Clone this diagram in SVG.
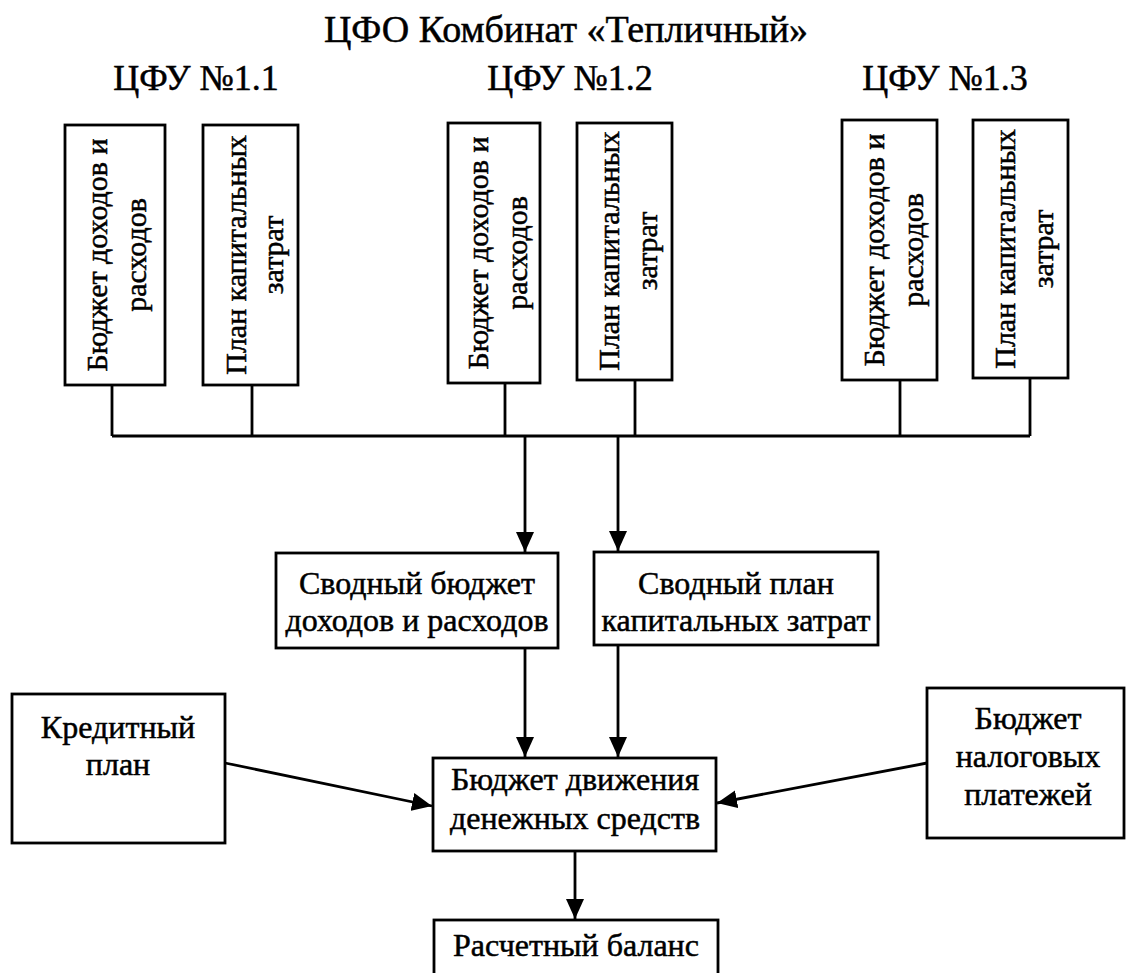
<svg xmlns="http://www.w3.org/2000/svg" width="1128" height="973" viewBox="0 0 1128 973">
  <style>
    .box { fill: #ffffff; stroke: #000000; stroke-width: 2.8; }
    .ln { fill: none; stroke: #000000; stroke-width: 2.8; }
    .arr { fill: none; stroke: #000000; stroke-width: 2.8; marker-end: url(#head); }
    .t { font-size: 32px; text-anchor: middle; fill: #000000; stroke: #000000; stroke-width: 0.5; }
    .v { font-size: 30px; }
    .h { font-size: 36px; text-anchor: middle; fill: #000000; stroke: #000000; stroke-width: 0.5; }
    .title { font-size: 38px; }
  </style>
  <defs>
    <marker id="head" markerUnits="userSpaceOnUse" markerWidth="20" markerHeight="18" viewBox="0 0 20 18" refX="20" refY="9" orient="auto">
      <path d="M0,0 L20,9 L0,18 Z" fill="#000000"/>
    </marker>
  </defs>

  <rect width="1128" height="973" fill="#ffffff"/>

  <g font-family="'Liberation Serif', 'DejaVu Serif', serif">
  <!-- headings -->
  <g id="headings">
    <text class="h title" x="566" y="42">ЦФО Комбинат «Тепличный»</text>
    <text class="h" x="196" y="90">ЦФУ №1.1</text>
    <text class="h" x="570" y="90">ЦФУ №1.2</text>
    <text class="h" x="945" y="90">ЦФУ №1.3</text>
  </g>

  <!-- connectors -->
  <g id="connectors">
    <path class="ln" d="M112,385 V436 M252,385 V436 M505,383 V436 M635,380 V436 M900,380 V436 M1030,378 V436 M112,436 H1030"/>
    <path class="arr" d="M525,436 V552"/>
    <path class="arr" d="M618,436 V551"/>
    <path class="arr" d="M525,648 V757"/>
    <path class="arr" d="M618,645 V757"/>
    <path class="arr" d="M225,763 L432,806"/>
    <path class="arr" d="M927,763 L717,803"/>
    <path class="arr" d="M575,851 V919"/>
  </g>

  <!-- ЦФУ 1.1 -->
  <g id="cfu11-budget">
    <rect class="box" x="65" y="125" width="100" height="260"/>
    <g transform="translate(65,255) rotate(-90)">
      <text class="t v" x="0" y="42">Бюджет доходов и</text>
      <text class="t v" x="0" y="81">расходов</text>
    </g>
  </g>
  <g id="cfu11-capex">
    <rect class="box" x="203" y="125" width="95" height="260"/>
    <g transform="translate(203,255) rotate(-90)">
      <text class="t v" x="0" y="43">План капитальных</text>
      <text class="t v" x="0" y="80">затрат</text>
    </g>
  </g>

  <!-- ЦФУ 1.2 -->
  <g id="cfu12-budget">
    <rect class="box" x="448" y="123" width="92" height="260"/>
    <g transform="translate(448,253) rotate(-90)">
      <text class="t v" x="0" y="40">Бюджет доходов и</text>
      <text class="t v" x="0" y="79">расходов</text>
    </g>
  </g>
  <g id="cfu12-capex">
    <rect class="box" x="577" y="123" width="95" height="257"/>
    <g transform="translate(577,251) rotate(-90)">
      <text class="t v" x="0" y="42">План капитальных</text>
      <text class="t v" x="0" y="80">затрат</text>
    </g>
  </g>

  <!-- ЦФУ 1.3 -->
  <g id="cfu13-budget">
    <rect class="box" x="842" y="120" width="95" height="260"/>
    <g transform="translate(842,250) rotate(-90)">
      <text class="t v" x="0" y="42">Бюджет доходов и</text>
      <text class="t v" x="0" y="81">расходов</text>
    </g>
  </g>
  <g id="cfu13-capex">
    <rect class="box" x="973" y="120" width="95" height="258"/>
    <g transform="translate(973,249) rotate(-90)">
      <text class="t v" x="0" y="42">План капитальных</text>
      <text class="t v" x="0" y="80">затрат</text>
    </g>
  </g>

  <!-- consolidated budgets -->
  <g id="summary-budget">
    <rect class="box" x="276" y="553" width="282" height="95"/>
    <text class="t" x="417" y="594">Сводный бюджет</text>
    <text class="t" x="417" y="631">доходов и расходов</text>
  </g>
  <g id="summary-capex">
    <rect class="box" x="594" y="552" width="284" height="93"/>
    <text class="t" x="736" y="594">Сводный план</text>
    <text class="t" x="736" y="631">капитальных затрат</text>
  </g>

  <!-- side plans -->
  <g id="credit-plan">
    <rect class="box" x="12" y="694" width="213" height="149"/>
    <text class="t" x="118" y="738">Кредитный</text>
    <text class="t" x="118" y="775">план</text>
  </g>
  <g id="tax-budget">
    <rect class="box" x="927" y="688" width="197" height="150"/>
    <text class="t" x="1028" y="729">Бюджет</text>
    <text class="t" x="1028" y="767">налоговых</text>
    <text class="t" x="1028" y="805">платежей</text>
  </g>

  <!-- cash flow -->
  <g id="cash-flow">
    <rect class="box" x="433" y="758" width="283" height="93"/>
    <text class="t" x="575" y="790">Бюджет движения</text>
    <text class="t" x="575" y="829">денежных средств</text>
  </g>

  <!-- settlement balance -->
  <g id="balance">
    <rect class="box" x="434" y="920" width="284" height="60"/>
    <text class="t" x="576" y="956">Расчетный баланс</text>
  </g>
  </g>
</svg>
